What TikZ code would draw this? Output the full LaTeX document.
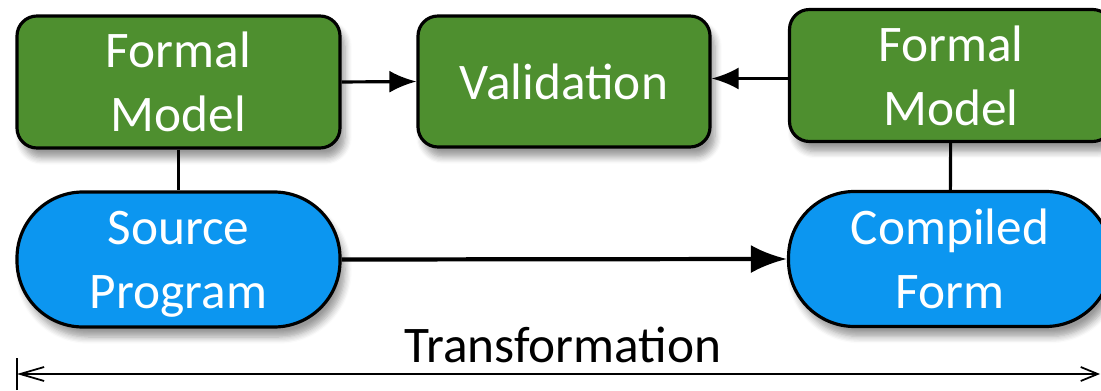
\documentclass[tikz,border=0pt]{standalone}
\usepackage{fontspec}
\setmainfont{Carlito}
\usetikzlibrary{positioning}
\usetikzlibrary{arrows.meta}
\usetikzlibrary{shadows.blur}

\definecolor{modelgreen}{RGB}{78,143,47}
\definecolor{progblue}{RGB}{12,150,240}

% last line without its descender, so the text sits centred
\newcommand{\nodesc}[1]{\raisebox{0pt}[\height][0pt]{#1}}

\begin{document}
\begin{tikzpicture}[x=1cm, y=1cm,
  box/.style={draw=black, line width=0.9pt, text=white, align=center,
    font=\fontsize{14.6}{18.2}\selectfont, inner sep=0pt,
    blur shadow={shadow xshift=0.5mm, shadow yshift=-1mm, shadow blur steps=6, shadow opacity=40}},
  model/.style={box, fill=modelgreen, rounded corners=2mm, minimum width=3.23cm, minimum height=1.32cm},
  prog/.style={box, fill=progblue, rounded corners=6.6mm, minimum width=3.23cm, minimum height=1.35cm},
  link/.style={line width=0.9pt},
  flow/.style={line width=0.9pt, -{Latex[length=2.7mm, width=2.2mm]}},
  mainflow/.style={line width=1.2pt, -{Latex[length=3.6mm, width=2.8mm]}},
  span/.style={line width=0.5pt, {Straight Barb[length=2.4mm, width=1.4mm]}-{Straight Barb[length=1.7mm, width=1.4mm]}}
]
 \useasboundingbox (0,0) rectangle (11.01,3.9);

 %models and validation
 \node[model] (fmL) at (1.785,3.08) {Formal\\Model};
 \node[model] (val) at (5.64,3.085) [minimum width=2.92cm, minimum height=1.31cm] {Validation};
 \node[model] (fmR) at (9.51,3.145) {Formal\\Model};

 %programs
 \node[prog] (src) at (1.785,1.305) {Source\\\nodesc{Program}};
 \node[prog] (cmp) at (9.50,1.31) {Compiled\\Form};

 %connectors
 \draw[link] (fmL) -- (src);
 \draw[link] (fmR) -- (cmp);
 \draw[flow] (fmL.east) -- (val.west);
 \draw[flow] ([yshift=0.03cm]val.east -| fmR.west) -- ([yshift=0.03cm]val.east);
 \draw[mainflow] (src.east) -- (cmp.west);

 %transformation span
 \coordinate (t0) at (0.17,0.16);
 \coordinate (t1) at (11.0,0.16);
 \draw[line width=0.5pt] (0.17,0) -- (0.17,0.32);
 \draw[span] (t0) -- (t1);
 \node[font=\fontsize{14.6}{18.2}\selectfont] (trans) at (5.63,0.45) {Transformation};

\end{tikzpicture}
\end{document}
